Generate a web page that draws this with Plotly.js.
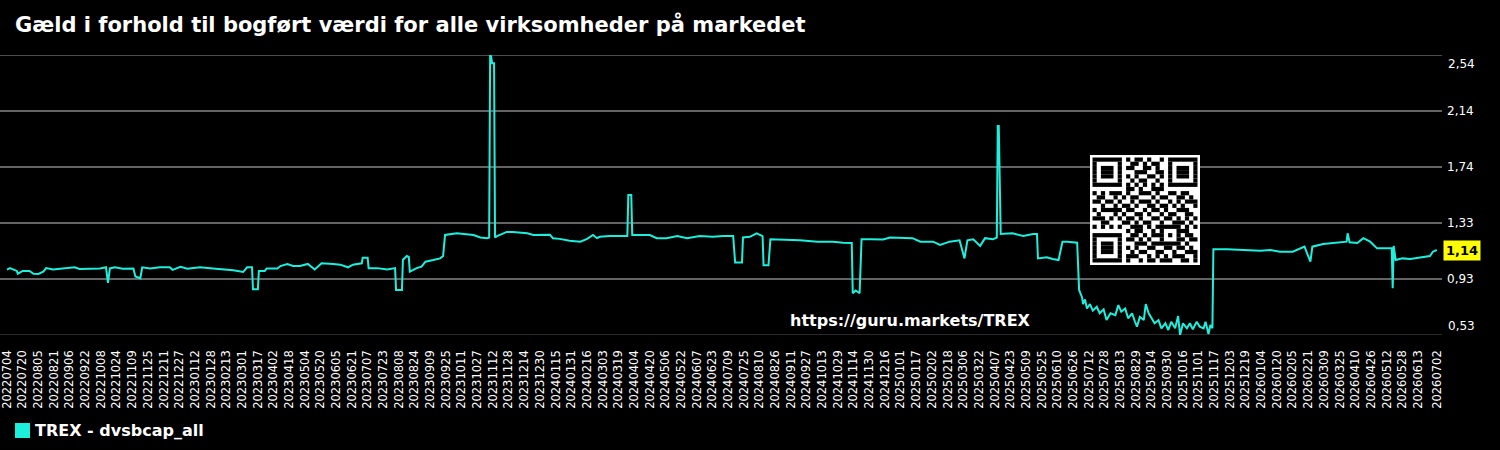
<!DOCTYPE html>
<html>
<head>
<meta charset="utf-8">
<script src="https://cdn.plot.ly/plotly-3.0.1.min.js"></script>
<style>html,body{margin:0;padding:0;background:#000;}#chart{width:1500px;height:450px;}</style>
</head>
<body>
<div id="chart"></div>
<script>
const seriesName = 'TREX - dvsbcap_all';
const chartTitle = 'Gæld i forhold til bogført værdi for alle virksomheder på markedet';
const watermark = 'https://guru.markets/TREX';
const lastLabel = '1,14';

const dates = [
'2022-07-04','2022-07-07','2022-07-14','2022-07-15','2022-07-20','2022-07-27','2022-07-31','2022-08-05','2022-08-10','2022-08-13',
'2022-08-20','2022-08-27','2022-08-30','2022-09-11','2022-09-16','2022-09-27','2022-10-07','2022-10-13','2022-10-15','2022-10-17',
'2022-10-22','2022-10-30','2022-11-10','2022-11-12','2022-11-17','2022-11-19','2022-11-27','2022-12-07','2022-12-17','2022-12-20',
'2022-12-28','2023-01-04','2023-01-17','2023-01-30','2023-02-06','2023-02-13','2023-02-20','2023-03-02','2023-03-06','2023-03-11',
'2023-03-12','2023-03-17','2023-03-18','2023-03-24','2023-03-26','2023-04-06','2023-04-09','2023-04-16','2023-04-22','2023-04-29',
'2023-05-07','2023-05-14','2023-05-21','2023-06-02','2023-06-09','2023-06-17','2023-06-22','2023-07-01','2023-07-02','2023-07-07',
'2023-07-08','2023-07-17','2023-07-27','2023-08-04','2023-08-05','2023-08-11','2023-08-12','2023-08-16','2023-08-18','2023-08-19',
'2023-08-26','2023-08-31','2023-09-04','2023-09-12','2023-09-19','2023-09-22','2023-09-24','2023-10-06','2023-10-16','2023-10-23',
'2023-10-30','2023-11-06','2023-11-08','2023-11-09','2023-11-10','2023-11-11','2023-11-13','2023-11-14','2023-11-16','2023-11-19',
'2023-11-26','2023-12-02','2023-12-09','2023-12-17','2023-12-23','2023-12-30','2024-01-09','2024-01-12','2024-01-19','2024-01-29',
'2024-02-09','2024-02-16','2024-02-22','2024-02-26','2024-02-29','2024-03-10','2024-03-21','2024-03-28','2024-03-29','2024-04-01',
'2024-04-02','2024-04-10','2024-04-20','2024-04-27','2024-05-07','2024-05-18','2024-05-28','2024-06-10','2024-06-23','2024-07-04',
'2024-07-14','2024-07-16','2024-07-23','2024-07-24','2024-07-31','2024-08-07','2024-08-13','2024-08-14','2024-08-19','2024-08-21',
'2024-08-31','2024-09-20','2024-10-08','2024-10-24','2024-11-03','2024-11-12','2024-11-13','2024-11-16','2024-11-20','2024-11-22',
'2024-12-01','2024-12-14','2024-12-21','2024-12-31','2025-01-13','2025-01-21','2025-02-03','2025-02-10','2025-02-20','2025-03-02',
'2025-03-07','2025-03-10','2025-03-16','2025-03-23','2025-03-28','2025-04-05','2025-04-09','2025-04-10','2025-04-11','2025-04-13',
'2025-04-15','2025-04-25','2025-05-06','2025-05-16','2025-05-20','2025-05-21','2025-05-30','2025-06-05','2025-06-11','2025-06-15',
'2025-06-20','2025-06-30','2025-07-02','2025-07-05','2025-07-06','2025-07-08','2025-07-10','2025-07-13','2025-07-16','2025-07-20',
'2025-07-23','2025-07-27','2025-07-30','2025-08-03','2025-08-08','2025-08-11','2025-08-14','2025-08-18','2025-08-21','2025-08-25',
'2025-08-28','2025-08-30','2025-09-02','2025-09-06','2025-09-08','2025-09-11','2025-09-14','2025-09-17','2025-09-21','2025-09-24',
'2025-09-28','2025-10-01','2025-10-04','2025-10-08','2025-10-11','2025-10-13','2025-10-16','2025-10-20','2025-10-23','2025-10-26',
'2025-10-30','2025-11-02','2025-11-06','2025-11-08','2025-11-11','2025-11-13','2025-11-15','2025-11-16','2025-11-30','2025-12-16',
'2026-01-03','2026-01-13','2026-01-23','2026-02-05','2026-02-12','2026-02-17','2026-02-23','2026-02-25','2026-03-08','2026-03-22',
'2026-04-01','2026-04-02','2026-04-04','2026-04-12','2026-04-18','2026-04-25','2026-05-02','2026-05-08','2026-05-17','2026-05-18',
'2026-05-19','2026-05-21','2026-05-28','2026-06-05','2026-06-15','2026-06-25','2026-06-28','2026-07-02'
];

const values = [
1.000,1.010,0.990,0.970,0.990,0.990,0.970,0.968,0.985,1.010,
1.000,1.005,1.010,1.016,1.004,1.008,1.008,1.016,0.905,1.008,
1.016,1.005,1.008,0.950,0.937,1.016,1.008,1.016,1.016,0.998,
1.020,1.005,1.016,1.008,1.005,1.000,0.995,0.982,1.016,1.016,
0.858,0.858,0.990,0.990,1.008,1.008,1.025,1.040,1.025,1.025,
1.040,1.000,1.045,1.040,1.035,1.016,1.035,1.045,1.085,1.085,
1.010,1.010,1.000,1.010,0.853,0.853,1.070,1.097,1.090,0.985,
1.010,1.020,1.056,1.068,1.080,1.097,1.248,1.260,1.255,1.248,
1.230,1.225,1.230,2.540,2.530,2.480,2.480,1.230,1.240,1.248,
1.270,1.270,1.265,1.260,1.248,1.250,1.250,1.225,1.220,1.207,
1.200,1.220,1.248,1.225,1.235,1.240,1.240,1.240,1.535,1.535,
1.248,1.250,1.248,1.225,1.225,1.240,1.225,1.240,1.235,1.240,
1.240,1.050,1.050,1.230,1.235,1.260,1.240,1.030,1.030,1.217,
1.215,1.210,1.200,1.200,1.193,1.190,0.830,0.850,0.830,1.217,
1.217,1.215,1.230,1.230,1.225,1.200,1.200,1.176,1.200,1.210,
1.080,1.210,1.217,1.170,1.225,1.217,1.230,2.030,2.030,1.255,
1.255,1.260,1.240,1.255,1.255,1.080,1.088,1.075,1.068,1.200,
1.200,1.193,0.853,0.800,0.752,0.786,0.720,0.752,0.705,0.733,
0.686,0.714,0.638,0.686,0.673,0.745,0.697,0.720,0.650,0.686,
0.625,0.590,0.660,0.637,0.752,0.686,0.650,0.614,0.637,0.578,
0.614,0.566,0.625,0.578,0.666,0.530,0.614,0.578,0.614,0.571,
0.625,0.590,0.578,0.625,0.537,0.602,0.578,1.145,1.145,1.140,
1.135,1.140,1.128,1.128,1.152,1.164,1.056,1.164,1.183,1.193,
1.200,1.260,1.195,1.190,1.225,1.200,1.152,1.152,1.152,0.865,
1.170,1.068,1.080,1.075,1.088,1.097,1.128,1.140
];

const tickDates = [
'2022-07-04','2022-07-20','2022-08-05','2022-08-21','2022-09-06','2022-09-22','2022-10-08','2022-10-24','2022-11-09','2022-11-25','2022-12-11','2022-12-27',
'2023-01-12','2023-01-28','2023-02-13','2023-03-01','2023-03-17','2023-04-02','2023-04-18','2023-05-04','2023-05-20','2023-06-05','2023-06-21','2023-07-07',
'2023-07-23','2023-08-08','2023-08-24','2023-09-09','2023-09-25','2023-10-11','2023-10-27','2023-11-12','2023-11-28','2023-12-14','2023-12-30',
'2024-01-15','2024-01-31','2024-02-16','2024-03-03','2024-03-19','2024-04-04','2024-04-20','2024-05-06','2024-05-22','2024-06-07','2024-06-23',
'2024-07-09','2024-07-25','2024-08-10','2024-08-26','2024-09-11','2024-09-27','2024-10-13','2024-10-29','2024-11-14','2024-11-30','2024-12-16',
'2025-01-01','2025-01-17','2025-02-02','2025-02-18','2025-03-06','2025-03-22','2025-04-07','2025-04-23','2025-05-09','2025-05-25','2025-06-10',
'2025-06-26','2025-07-12','2025-07-28','2025-08-13','2025-08-29','2025-09-14','2025-09-30','2025-10-16','2025-11-01','2025-11-17','2025-12-03','2025-12-19',
'2026-01-04','2026-01-20','2026-02-05','2026-02-21','2026-03-09','2026-03-25','2026-04-10','2026-04-26','2026-05-12','2026-05-28','2026-06-13','2026-07-02'
];
const tickLabels = tickDates.map(d => d.replace(/-/g, ''));

const yMin = 0.53, yMax = 2.54;
const yTickVals = [0.932, 1.334, 1.736, 2.138];
const yTickText = ['0,93', '1,33', '1,74', '2,14'];
const yEdgeText = ['0,53', '2,54'];

// QR decoration pattern (1 = dark module)
const qrRows = [
'1111111'+'0'+'101101001'+'0'+'1111111',
'1000001'+'0'+'011010110'+'0'+'1000001',
'1011101'+'0'+'110011010'+'0'+'1011101',
'1011101'+'0'+'001110011'+'0'+'1011101',
'1011101'+'0'+'101001101'+'0'+'1011101',
'1000001'+'0'+'010110010'+'0'+'1000001',
'1111111'+'0'+'101010101'+'0'+'1111111',
'00000000'+'110100111'+'00000000',
'1010111010011101001101100',
'0110010101100010110011010',
'1101101001011101001010111',
'0010010110100110110101001',
'1011111011001011010011100',
'0100010100110100101100110',
'1110101011010011011010101',
'0011000110101100100111010',
'1010101001110101'+'11111'+'0101',
'00000000'+'10110010'+'10001'+'1100',
'1111111'+'0'+'01101011'+'10101'+'0110',
'1000001'+'0'+'11010100'+'10001'+'1011',
'1011101'+'0'+'00111011'+'11111'+'0100',
'1011101'+'0'+'10100110'+'01101'+'1010',
'1011101'+'0'+'01011001'+'10010'+'0111',
'1000001'+'0'+'11100101'+'01011'+'1001',
'1111111'+'0'+'10010110'+'11100'+'1101'
];

// layout geometry (pixels)
const W = 1500, H = 450;
const M = {l: 0, r: 58, t: 55, b: 115};
const PW = W - M.l - M.r, PH = H - M.t - M.b;
const px = x => (x - M.l) / PW;
const py = y => (M.t + PH - y) / PH;

const cyan = '#1cf0dc';
const font = 'DejaVu Sans';

const shapes = [];
shapes.push({type: 'line', xref: 'paper', yref: 'y', x0: 0, x1: 1, y0: yMax, y1: yMax, line: {color: '#646464', width: 1.5}, layer: 'below'});
shapes.push({type: 'line', xref: 'paper', yref: 'y', x0: 0, x1: 1, y0: yMin, y1: yMin, line: {color: '#3a3a3a', width: 1.5}, layer: 'below'});

// QR box
shapes.push({type: 'rect', xref: 'paper', yref: 'paper', x0: px(1090), x1: px(1200), y0: py(265), y1: py(155), fillcolor: '#ffffff', line: {width: 0}, layer: 'above'});
const qx0 = 1092.5, qy0 = 157.5, qm = 4.2;
qrRows.forEach((row, r) => {
  let c = 0;
  while (c < row.length) {
    if (row[c] === '1') {
      let e = c;
      while (e < row.length && row[e] === '1') e++;
      shapes.push({type: 'rect', xref: 'paper', yref: 'paper',
        x0: px(qx0 + c * qm), x1: px(qx0 + e * qm),
        y0: py(qy0 + (r + 1) * qm), y1: py(qy0 + r * qm),
        fillcolor: '#000000', line: {width: 0}, layer: 'above'});
      c = e;
    } else c++;
  }
});

// legend square
shapes.push({type: 'rect', xref: 'paper', yref: 'paper', x0: px(15), x1: px(30), y0: py(438), y1: py(423), fillcolor: cyan, line: {width: 0}});

const annotations = [
  {xref: 'paper', yref: 'y', x: 1, y: yMin, xanchor: 'left', yanchor: 'middle', xshift: 4, yshift: 9, text: yEdgeText[0], showarrow: false, font: {family: font, size: 12, color: '#ffffff'}},
  {xref: 'paper', yref: 'y', x: 1, y: yMax, xanchor: 'left', yanchor: 'middle', xshift: 4, yshift: -9, text: yEdgeText[1], showarrow: false, font: {family: font, size: 12, color: '#ffffff'}},
  {xref: 'paper', yref: 'y', x: 1, y: values[values.length - 1], xanchor: 'left', yanchor: 'middle', xshift: 1, text: '<b>' + lastLabel + '</b>', showarrow: false, bgcolor: '#ffff00', borderpad: 2, font: {family: font, size: 13, color: '#000000'}},
  {xref: 'paper', yref: 'paper', x: px(910), y: py(320), xanchor: 'center', yanchor: 'middle', text: '<b>' + watermark + '</b>', showarrow: false, font: {family: font, size: 16, color: '#ffffff'}},
  {xref: 'paper', yref: 'paper', x: px(33), y: py(430.5), xanchor: 'left', yanchor: 'middle', text: '<b>' + seriesName + '</b>', showarrow: false, font: {family: font, size: 16, color: '#ffffff'}}
];

const trace = {
  type: 'scatter', mode: 'lines', x: dates, y: values, name: seriesName,
  line: {color: cyan, width: 2}, showlegend: false, hoverinfo: 'x+y'
};

const layout = {
  width: W, height: H,
  margin: M,
  paper_bgcolor: '#000000', plot_bgcolor: '#000000',
  showlegend: false,
  title: {text: '<b>' + chartTitle + '</b>', font: {family: font, size: 21, color: '#ffffff'}, xref: 'container', yref: 'container', x: 15 / W, xanchor: 'left', y: 1 - 25 / H, yanchor: 'middle'},
  xaxis: {
    type: 'date', range: ['2022-06-26 20:30', '2026-07-07 07:00'],
    tickmode: 'array', tickvals: tickDates, ticktext: tickLabels, tickangle: -90,
    tickfont: {family: font, size: 11.5, color: '#ffffff'}, ticklabeloverflow: 'allow',
    showgrid: false, zeroline: false, showline: false, ticks: '', ticklabelstandoff: 12, fixedrange: true
  },
  yaxis: {
    side: 'right', range: [yMin, yMax],
    tickmode: 'array', tickvals: yTickVals, ticktext: yTickText,
    tickfont: {family: font, size: 12, color: '#ffffff'},
    showgrid: true, gridcolor: '#646464', gridwidth: 1.5, zeroline: false, showline: false, ticks: '', ticklabelstandoff: 4, fixedrange: true
  },
  shapes: shapes,
  annotations: annotations
};

Plotly.newPlot('chart', [trace], layout, {displayModeBar: false, staticPlot: true});
</script>
</body>
</html>
